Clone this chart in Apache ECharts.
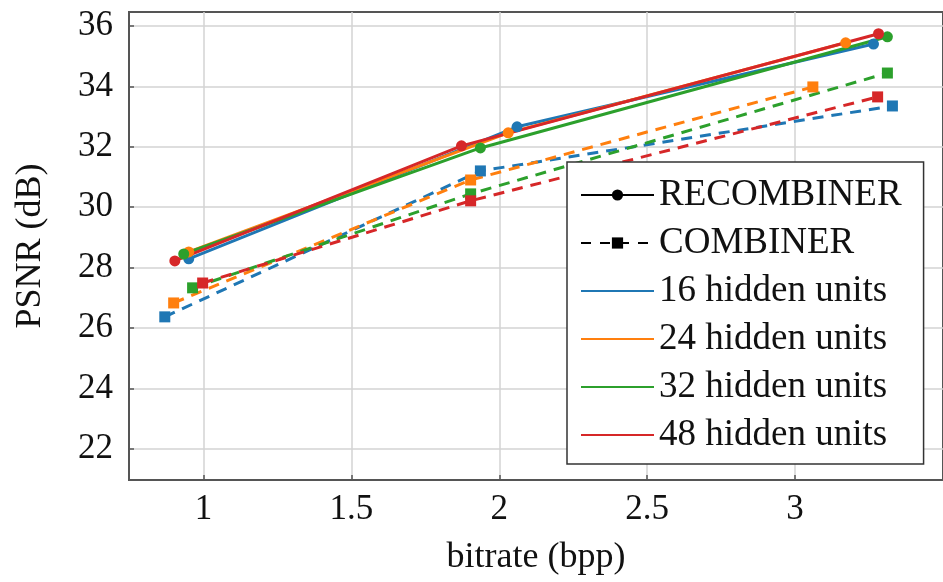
<!DOCTYPE html>
<html>
<head>
<meta charset="utf-8">
<script src="https://cdn.jsdelivr.net/npm/echarts@6/dist/echarts.min.js"></script>
<style>html,body{margin:0;padding:0;background:#fff;}#c{width:943px;height:582px;}</style>
</head>
<body>
<div id="c"></div>
<script>
// ---- data ----
var unitNames = ['16 hidden units', '24 hidden units', '32 hidden units', '48 hidden units'];
var unitColors = ['#1f77b4', '#ff7f0e', '#2ca02c', '#d62728'];

// RECOMBINER (solid, circles): [bitrate, PSNR]
var recomb16 = [[0.950, 28.29], [2.060, 32.66], [3.265, 35.40]];
var recomb24 = [[0.950, 28.52], [2.030, 32.46], [3.171, 35.44]];
var recomb32 = [[0.933, 28.45], [1.936, 31.96], [3.312, 35.64]];
var recomb48 = [[0.903, 28.22], [1.872, 32.03], [3.282, 35.74]];

// COMBINER (dashed, squares)
var comb16 = [[0.869, 26.37], [1.936, 31.20], [3.329, 33.35]];
var comb24 = [[0.899, 26.83], [1.903, 30.90], [3.060, 33.98]];
var comb32 = [[0.963, 27.33], [1.903, 30.44], [3.312, 34.44]];
var comb48 = [[0.997, 27.49], [1.903, 30.21], [3.279, 33.65]];

var xTicks = [1, 1.5, 2, 2.5, 3];
var yTicks = [22, 24, 26, 28, 30, 32, 34, 36];

var recombData = [recomb16, recomb24, recomb32, recomb48];
var combData = [comb16, comb24, comb32, comb48];

var FONT = '"Liberation Serif", "DejaVu Serif", serif';
var chart = echarts.init(document.getElementById('c'), null, {renderer: 'canvas'});

var series = [];
// combiner first (drawn below)
combData.forEach(function (d, i) {
  series.push({
    type: 'line', name: 'comb' + i, data: d,
    symbol: 'rect', symbolSize: 11,
    lineStyle: {color: unitColors[i], width: 3, type: [11, 8]},
    itemStyle: {color: unitColors[i]},
    z: 2, animation: false
  });
});
recombData.forEach(function (d, i) {
  series.push({
    type: 'line', name: 'recomb' + i, data: d,
    symbol: 'circle', symbolSize: 11,
    lineStyle: {color: unitColors[i], width: 3},
    itemStyle: {color: unitColors[i]},
    z: 3, animation: false
  });
});
// legend-only series
series.push({type: 'line', name: 'RECOMBINER', data: [], symbol: 'circle', symbolSize: 9,
  lineStyle: {color: '#000', width: 2.5}, itemStyle: {color: '#000'}});
series.push({type: 'line', name: 'COMBINER', data: [], symbol: 'rect', symbolSize: 9,
  lineStyle: {color: '#000', width: 2.5, type: [10, 9]}, itemStyle: {color: '#000'}});
unitNames.forEach(function (n, i) {
  series.push({type: 'line', name: n, data: [], symbol: 'none',
    lineStyle: {color: unitColors[i], width: 2.5}, itemStyle: {color: 'rgba(0,0,0,0)', opacity: 0}});
});

var option = {
  animation: false,
  backgroundColor: '#fff',
  grid: {left: 129, top: 12, width: 820, height: 468, show: true,
    borderColor: '#555', borderWidth: 2, backgroundColor: 'transparent'},
  legend: {
    data: ['RECOMBINER', 'COMBINER'].concat(unitNames),
    orient: 'vertical', left: 567, top: 162,
    padding: [14, 22, 10, 13],
    itemWidth: 73, itemHeight: 14, itemGap: 10,
    backgroundColor: '#fff', borderColor: '#333', borderWidth: 1.5, borderRadius: 0,
    textStyle: {fontFamily: FONT, fontSize: 37, color: '#111', lineHeight: 38},
    selectedMode: false
  },
  xAxis: {
    type: 'value', min: 0.748, max: 3.5,
    name: 'bitrate (bpp)', nameLocation: 'middle', nameGap: 60,
    nameTextStyle: {fontFamily: FONT, fontSize: 36, color: '#111'},
    axisLine: {show: true, lineStyle: {color: '#555', width: 2}},
    axisTick: {show: true, inside: true, length: 5, customValues: xTicks, lineStyle: {color: '#555', width: 1.5}},
    axisLabel: {customValues: xTicks, margin: 12, fontFamily: FONT, fontSize: 35, color: '#111',
      formatter: function (v) { return String(v); }},
    splitLine: {show: true, lineStyle: {color: '#d3d3d3', width: 1.5}}
  },
  yAxis: {
    type: 'value', min: 20.97, max: 36.46,
    name: 'PSNR (dB)', nameLocation: 'middle', nameGap: 80, nameRotate: 90,
    nameTextStyle: {fontFamily: FONT, fontSize: 36, color: '#111'},
    axisLine: {show: true, lineStyle: {color: '#555', width: 2}},
    axisTick: {show: true, inside: true, length: 5, customValues: yTicks, lineStyle: {color: '#555', width: 1.5}},
    axisLabel: {customValues: yTicks, margin: 16, fontFamily: FONT, fontSize: 35, color: '#111'},
    splitLine: {show: true, lineStyle: {color: '#d3d3d3', width: 1.5}}
  },
  series: series
};
chart.setOption(option);
</script>
</body>
</html>
